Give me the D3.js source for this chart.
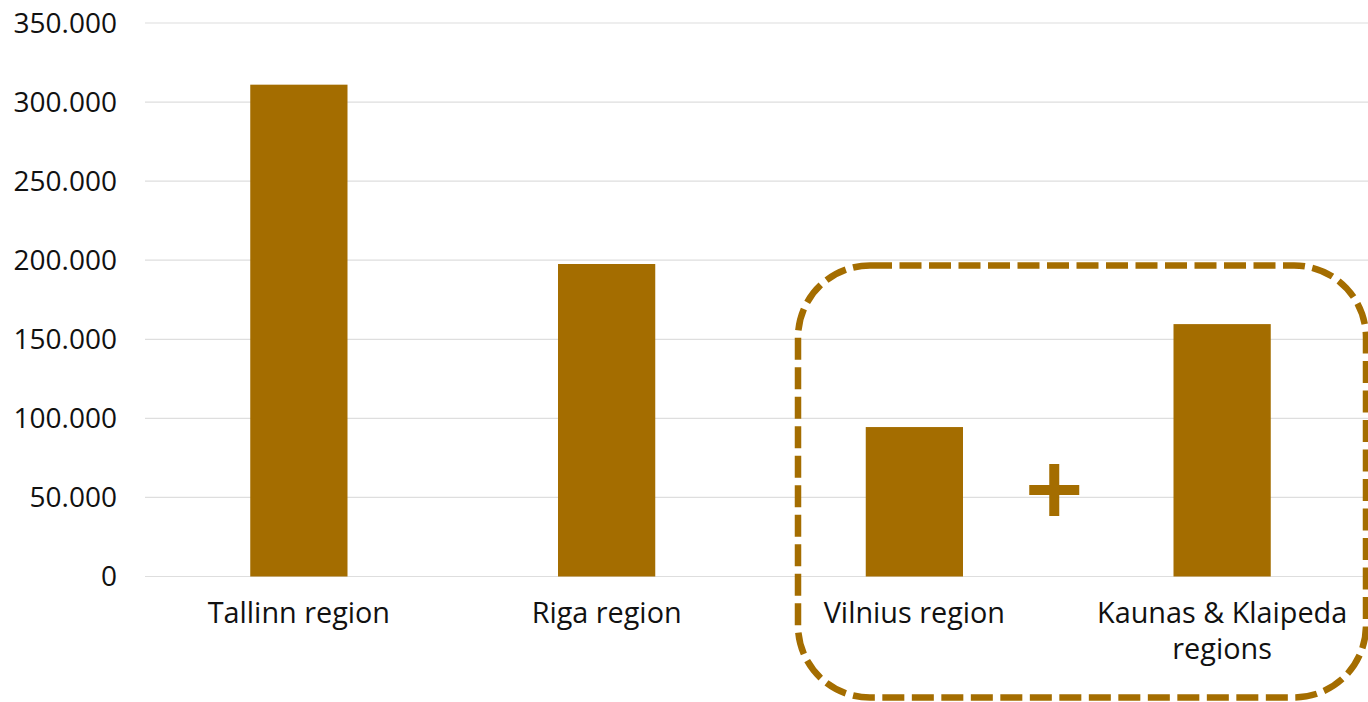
<!DOCTYPE html>
<html>
<head>
<meta charset="utf-8">
<script src="https://cdn.jsdelivr.net/npm/d3@7"></script>
<style>
  html, body { margin: 0; padding: 0; background: #fff; }
  svg { display: block; }
  text { font-family: "Open Sans", sans-serif; fill: #111; }
</style>
</head>
<body>
<svg id="chart" width="1368" height="702"></svg>
<script>
const categories = [["Tallinn region"], ["Riga region"], ["Vilnius region"], ["Kaunas & Klaipeda", "regions"]];
const values = [311000, 197600, 94500, 159600];
const yTicks = [0, 50000, 100000, 150000, 200000, 250000, 300000, 350000];
const tickLabels = ["0", "50.000", "100.000", "150.000", "200.000", "250.000", "300.000", "350.000"];

const color = "#A46D00";
const svg = d3.select("#chart");

const x = d3.scaleBand()
  .domain(categories.map((c, i) => i))
  .range([145, 1376])
  .paddingInner(0.684)
  .paddingOuter(0.342);

const y = d3.scaleLinear().domain([0, 350000]).range([576.5, 23]);

// gridlines
svg.append("g").selectAll("line").data(yTicks).join("line")
  .attr("x1", 145).attr("x2", 1376)
  .attr("y1", d => y(d)).attr("y2", d => y(d))
  .attr("stroke", "#dedede").attr("stroke-width", 1.2);

// y axis labels
svg.append("g").selectAll("text").data(yTicks).join("text")
  .attr("x", 117).attr("y", d => y(d))
  .attr("dy", "0.35em")
  .attr("text-anchor", "end")
  .attr("font-size", 28)
  .text((d, i) => tickLabels[i]);

// bars
svg.append("g").selectAll("rect").data(values).join("rect")
  .attr("x", (d, i) => x(i))
  .attr("width", x.bandwidth())
  .attr("y", d => y(d))
  .attr("height", d => y(0) - y(d))
  .attr("fill", color);

// x labels
const xl = svg.append("g").selectAll("text").data(categories).join("text")
  .attr("text-anchor", "middle")
  .attr("font-size", 28.8)
  .attr("transform", (d, i) => `translate(${x(i) + x.bandwidth() / 2},623)`);
xl.selectAll("tspan").data(d => d).join("tspan")
  .attr("x", 0)
  .attr("y", (d, j) => j * 36)
  .text(d => d);

// dashed rounded box around Lithuanian regions
svg.append("rect")
  .attr("x", 798).attr("y", 265.5)
  .attr("width", 1366 - 798).attr("height", 697.5 - 265.5)
  .attr("rx", 72).attr("ry", 72)
  .attr("fill", "none")
  .attr("stroke", color)
  .attr("stroke-width", 6.5)
  .attr("stroke-dasharray", "22,7.5");

// plus sign
const px = (x(2) + x(3) + x.bandwidth()) / 2 - 14, py = 490;
svg.append("rect").attr("x", px - 25).attr("y", py - 5).attr("width", 50).attr("height", 10).attr("fill", color);
svg.append("rect").attr("x", px - 5).attr("y", py - 26).attr("width", 10).attr("height", 52).attr("fill", color);
</script>
</body>
</html>
